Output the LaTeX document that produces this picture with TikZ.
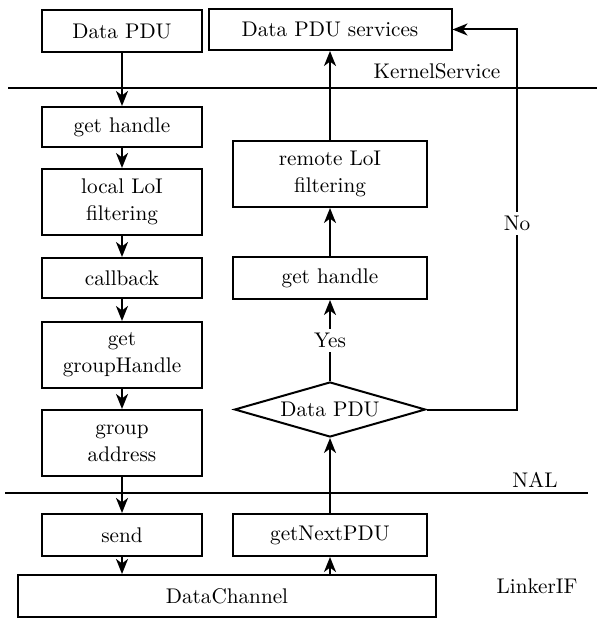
\documentclass[tikz,border=0pt]{standalone}
\usetikzlibrary{shapes.geometric,arrows.meta}
\begin{document}
\begin{tikzpicture}[x=0.5pt,y=-0.5pt,
  font=\fontsize{10.6}{13.5}\selectfont,
  box/.style={draw, line width=1pt, inner sep=0pt, align=center},
  lbox/.style={box, minimum width=80pt},
  rbox/.style={box, minimum width=97pt},
  flow/.style={line width=1pt, -{Stealth[length=7.5pt,width=6pt,inset=2.2pt]}},
  layer/.style={line width=1pt},
  lab/.style={inner sep=2pt, fill=white}]
\useasboundingbox (0,0) rectangle (597,619);

% layer boundaries
\coordinate (k1) at (8,88);
\coordinate (k2) at (597,88);
\coordinate (n1) at (5,493);
\coordinate (n2) at (588,493);
\draw[layer] (k1) -- (k2);
\draw[layer] (n1) -- (n2);
\node (kslab) at (437,71) {KernelService};
\node (nallab) at (535,480) {NAL};
\node (liflab) at (537,586) {LinkerIF};

% sending side
\node[lbox, minimum height=21pt] (dpdu) at (122,31) {Data PDU};
\node[lbox, minimum height=20pt] (gh1) at (122,127) {get handle};
\node[lbox, minimum height=33pt] (lloi) at (122,202) {local LoI\\filtering};
\node[lbox, minimum height=20pt] (cb) at (122,278) {callback};
\node[lbox, minimum height=33pt] (ggh) at (122,355) {get\\groupHandle};
\node[lbox, minimum height=33pt] (ga) at (122,443) {group\\address};
\node[lbox, minimum height=21pt] (send) at (122,535) {send};
\node[box, minimum width=209pt, minimum height=21pt] (dc) at (227,596) {DataChannel};

% receiving side
\node[box, minimum width=121.5pt, minimum height=20.5pt] (dps) at (330,29.5) {Data PDU services};
\node[rbox, minimum height=33pt] (rloi) at (330,174) {remote LoI\\filtering};
\node[rbox, minimum height=21pt] (gh2) at (330,278) {get handle};
\node[draw, line width=1pt, diamond, aspect=3.47, inner sep=0pt,
      minimum width=95.5pt, minimum height=27.5pt] (dia) at (330,409.5) {Data PDU};
\node[rbox, minimum height=21pt] (gnp) at (330,535) {getNextPDU};

% sending flow
\draw[flow] (dpdu) -- (gh1);
\draw[flow] (gh1) -- (lloi);
\draw[flow] (lloi) -- (cb);
\draw[flow] (cb) -- (ggh);
\draw[flow] (ggh) -- (ga);
\draw[flow] (ga) -- (send);
\draw[flow] (send) -- (send |- dc.north);

% receiving flow
\draw[flow] (gnp.south |- dc.north) -- (gnp);
\draw[flow] (gnp) -- (dia);
\draw[flow] (dia) -- node[lab] {Yes} (gh2);
\draw[flow] (gh2) -- (rloi);
\draw[flow] (rloi) -- (dps);
\coordinate (c1) at (517,409.5);
\coordinate (c2) at (517,29.5);
\draw[flow] (dia.east) -- (c1) -- node[lab, pos=0.49] {No} (c2) -- (dps.east);
\end{tikzpicture}
\end{document}
